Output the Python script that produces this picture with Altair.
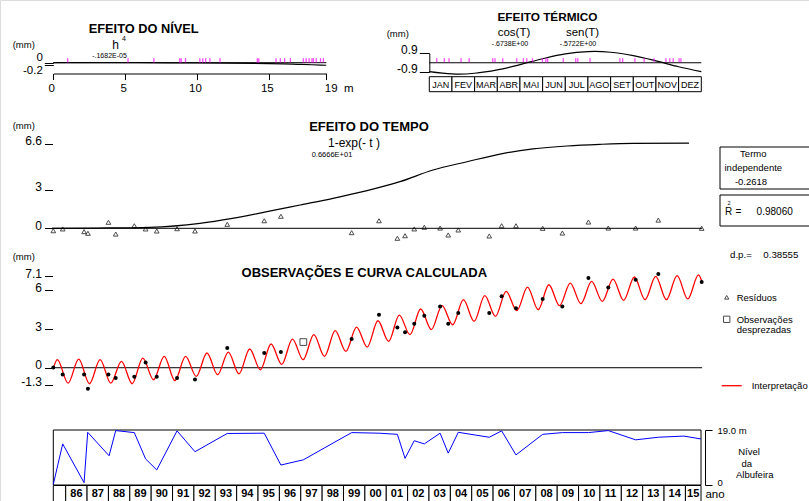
import altair as alt
import pandas as pd

FONT = "Liberation Sans"

# ---------------- data ----------------
# Efeito do nível (h in m -> effect in mm)
nivel_h = [0, 4, 8, 10, 12, 14, 16, 17, 18, 19]
nivel_ef = [0.0, 0.0, -0.007, -0.017, -0.035, -0.065, -0.11, -0.14, -0.177, -0.22]
nivel_obs_h = [1.0, 5.2, 7.0, 8.8, 8.9, 9.2, 10.2, 10.4, 10.6, 10.9, 11.6, 14.2, 14.3,
               15.5, 15.8, 16.1, 16.5, 17.4, 17.6, 17.8, 18.0, 18.1, 18.3, 18.6, 18.8]

# Efeito térmico (position in months 0-12 -> effect in mm)
term_m = [0, 1, 1.3, 2, 3, 4, 5, 6, 7, 7.3, 8, 9, 10, 11, 12]
term_ef = [-0.84, -1.06, -1.08, -1.0, -0.68, -0.18, 0.38, 0.84, 1.06, 1.08, 1.0, 0.68, 0.18, -0.38, -0.84]
term_obs_m = [0.33, 0.66, 0.87, 1.40, 1.76, 2.80, 2.90, 3.24, 3.86, 4.15, 4.30, 4.55, 4.99, 5.14,
              5.22, 5.91, 6.46, 6.55, 7.09, 8.41, 8.53, 9.07, 9.48, 9.92, 10.44, 10.61, 10.76,
              11.02, 11.10]
months = ["JAN", "FEV", "MAR", "ABR", "MAI", "JUN", "JUL", "AGO", "SET", "OUT", "NOV", "DEZ"]

# Efeito do tempo
tempo_t = [1985.36, 1987.5, 1989.94, 1992.28, 1993.8, 1995.42, 1996.97, 1998.51, 2000.1,
           2001.64, 2003.19, 2004.78, 2006.32, 2007.87, 2009.46, 2011.0, 2012.55, 2015.17]
tempo_ef = [0.0, 0.02, 0.08, 0.39, 0.78, 1.3, 1.82, 2.34, 2.94, 3.64, 4.55, 5.2, 5.8, 6.2,
            6.43, 6.56, 6.64, 6.66]

# Observations, residuals
obs_t = [1985.42, 1985.86, 1986.86, 1987.04, 1988.00, 1988.34, 1989.21, 1989.74, 1990.26,
         1991.21, 1992.05, 1993.56, 1995.29, 1996.07, 1999.38, 2000.66, 2001.52, 2001.88,
         2002.31, 2002.78, 2003.52, 2003.90, 2004.37, 2005.82, 2006.40, 2007.07, 2008.32,
         2009.24, 2010.46, 2011.39, 2012.67, 2013.73, 2015.76]
obs_v = [0.02, -0.52, -0.52, -1.63, -0.52, -0.80, -0.70, 0.41, -0.70, -0.80, -0.91, 1.53,
         1.14, 1.22, 2.22, 4.11, 3.12, 2.74, 3.41, 4.03, 4.75, 3.41, 4.24, 4.24, 5.53, 4.60,
         5.33, 4.75, 6.95, 6.22, 6.82, 7.26, 6.64]
res_v = [-0.19, -0.05, -0.26, -0.39, 0.47, -0.45, 0.20, -0.05, -0.21, -0.03, -0.21, 0.31,
         0.59, 0.94, -0.34, 0.59, -0.78, -0.58, -0.05, 0.08, 0.02, -0.52, -0.13, -0.60, 0.20,
         0.20, 0.00, -0.37, 0.49, 0.02, 0.02, 0.64, 0.00]
despr_t = [1997.12]
despr_v = [1.99]

# Interpretation curve (read at its peaks and troughs)
curve_start = (1985.42, -0.05)
curve_end = (2015.77, 6.69)
peak_years = list(range(1985, 2016))
peak_vals = [0.62, 0.67, 0.62, 0.49, 0.75, 0.88, 0.88, 1.14, 1.21, 1.45, 1.84, 2.22, 2.56,
             2.87, 3.15, 3.64, 4.08, 4.55, 4.81, 5.27, 5.58, 5.91, 6.25, 6.43, 6.56, 6.69,
             6.87, 7.03, 7.08, 7.13, 7.19]
trough_years = list(range(1986, 2016))
trough_vals = [-1.19, -1.24, -1.19, -1.24, -0.93, -1.0, -0.67, -0.54, -0.47, -0.16, 0.26,
               0.62, 0.88, 1.26, 1.6, 2.04, 2.56, 2.95, 3.33, 3.59, 3.98, 4.42, 4.5, 4.81,
               4.96, 5.14, 5.22, 5.27, 5.27, 5.33]
peak_phase = 0.61
trough_phase = 0.11

# Reservoir level
level_t = [1985.42, 1985.86, 1986.86, 1987.03, 1988.03, 1988.34, 1989.21, 1989.74, 1990.26,
           1991.21, 1992.05, 1993.56, 1995.29, 1996.07, 1997.12, 1999.38, 2000.66, 2001.52,
           2001.88, 2002.31, 2002.78, 2003.52, 2003.90, 2004.37, 2005.82, 2006.40, 2007.07,
           2008.32, 2009.24, 2010.46, 2011.39, 2012.67, 2013.73, 2014.93, 2015.73]
level_h = [0.24, 14.2, 0.8, 18.2, 10.1, 18.8, 18.1, 9.0, 5.2, 18.7, 11.5, 17.8, 17.9, 6.9,
           8.7, 18.1, 17.9, 17.5, 9.2, 15.3, 14.2, 17.9, 11.0, 18.2, 16.5, 18.7, 10.4, 17.5,
           18.1, 18.1, 18.8, 15.6, 16.5, 16.9, 15.9]
years = list(range(1985, 2016))
t_first, t_last = 1985.42, 2015.73

# ---------------- tables ----------------
ONE = pd.DataFrame({"k": [0]})
df_niv = pd.DataFrame({"h": nivel_h, "ef": nivel_ef})
df_niv_obs = pd.DataFrame({"h": nivel_obs_h})
df_term = pd.DataFrame({"m": term_m, "ef": term_ef})
df_term_obs = pd.DataFrame({"m": term_obs_m})
df_months = pd.DataFrame({"i": list(range(12)), "i1": [i + 1 for i in range(12)],
                          "c": [i + 0.5 for i in range(12)], "name": months})
df_tempo = pd.DataFrame({"t": tempo_t, "ef": tempo_ef})
df_obs = pd.DataFrame({"t": obs_t, "v": obs_v, "r": res_v})
df_despr = pd.DataFrame({"t": despr_t, "v": despr_v})
rows = [curve_start, curve_end]
rows += [(y + peak_phase, v) for y, v in zip(peak_years, peak_vals)]
rows += [(y + trough_phase, v) for y, v in zip(trough_years, trough_vals)]
df_curve = pd.DataFrame(sorted(rows), columns=["t", "v"])
df_level = pd.DataFrame({"t": level_t, "h": level_h})
df_years = pd.DataFrame({
    "s": [max(y, t_first) for y in years],
    "e": [min(y + 1, t_last) for y in years],
    "lab": ["" if y == 1985 else f"{y % 100:02d}" for y in years],
})
df_years["c"] = (df_years["s"] + df_years["e"]) / 2
df_frame = pd.DataFrame({"s": [t_first], "e": [t_last], "lo": [0], "hi": [19]})

# ---------------- scales / axes ----------------
def S(dom, rng):
    return alt.Scale(domain=dom, range=rng, nice=False, zero=False)

AXC = dict(grid=False, labelFont=FONT, labelColor="black", tickColor="black",
           domainColor="black", title="", labelFlush=False, labelOverlap=False,
           tickWidth=1, domainWidth=1)
NUM = "replace(format(datum.value, '.3~g'), '\u2212', '-')"

X_NIV = S([0, 19], [53.3, 326.3])
Y_NIV = S([-0.2, 0], [65.0, 62.7])
AX_NIV_X = alt.Axis(orient="bottom", offset=-427.5, values=[0, 5, 10, 15, 19], tickSize=6,
                    labelFontSize=11.5, labelPadding=3, labelOffset=-2,
                    labelExpr="datum.value == 19 ? '19\u00a0\u00a0m' : " + NUM,
                    labelAlign={"condition": {"test": "datum.value == 19", "value": "left"},
                                "value": "center"}, **AXC)
AX_NIV_Y = alt.Axis(orient="left", offset=-53.3, values=[0, -0.2], tickSize=9, domain=False,
                    labelFontSize=11.5, labelPadding=2, labelExpr=NUM,
                    labelOffset={"condition": {"test": "datum.value == 0", "value": -5.5},
                                 "value": 5.5}, **AXC)

X_TER = S([0, 12], [429.3, 701.3])
Y_TER = S([-0.9, 0.9], [72.2, 53.3])
AX_TER_Y = alt.Axis(orient="left", offset=-429.3, values=[-0.9, 0.9], tickSize=10,
                    labelFontSize=12, labelPadding=2, labelOffset=-4, labelExpr=NUM, **AXC)

X_T = S([1985, 2016], [44.33, 706.8])
Y_TEMPO = S([0, 6.6], [228.3, 143.8])
AX_TEMPO_Y = alt.Axis(orient="left", offset=-52.5, values=[0, 3, 6.6], tickSize=8,
                      domain=False, labelFontSize=12, labelPadding=3, labelOffset=-3,
                      labelExpr=NUM, **AXC)
Y_OBS = S([-1.3, 7.1], [384.5, 276.1])
AX_OBS_Y = alt.Axis(orient="left", offset=-52.5, values=[-1.3, 0, 3, 6, 7.1], tickSize=8,
                    domain=False, labelFontSize=12, labelPadding=3, labelOffset=-3,
                    labelExpr=NUM, **AXC)
Y_LEV = S([0, 19], [485, 430])
AX_LEV_Y = alt.Axis(orient="right", offset=-104, values=[0, 19], tickSize=7,
                    labelFontSize=9.5, labelPadding=5,
                    labelExpr="datum.value == 19 ? '19.0 m' : '0'",
                    labelOffset={"condition": {"test": "datum.value == 0", "value": -3},
                                 "value": 0}, **AXC)

# ---------------- panels ----------------
# Nível
niv = alt.layer(
    alt.Chart(ONE).mark_rule(color="black", strokeWidth=1).encode(
        x=alt.XDatum(0, scale=X_NIV, axis=AX_NIV_X), x2=alt.X2Datum(19),
        y=alt.YDatum(0, scale=Y_NIV, axis=AX_NIV_Y)),
    alt.Chart(df_niv).mark_line(color="black", strokeWidth=1.2, interpolate="monotone").encode(
        x=alt.X("h:Q", scale=X_NIV, axis=AX_NIV_X), y=alt.Y("ef:Q", scale=Y_NIV, axis=AX_NIV_Y)),
    alt.Chart(df_niv_obs).mark_tick(orient="vertical", color="#ff00ff", size=4.5, thickness=1.3,
                                   yOffset=-2.3).encode(
        x=alt.X("h:Q", scale=X_NIV, axis=AX_NIV_X), y=alt.YDatum(0, scale=Y_NIV, axis=AX_NIV_Y)),
)

# Térmico
ter = alt.layer(
    alt.Chart(ONE).mark_rule(color="black", strokeWidth=1).encode(
        x=alt.XDatum(0, scale=X_TER, axis=None), x2=alt.X2Datum(12),
        y=alt.YDatum(0, scale=Y_TER, axis=AX_TER_Y)),
    alt.Chart(df_term).mark_line(color="black", strokeWidth=1.2, interpolate="monotone").encode(
        x=alt.X("m:Q", scale=X_TER, axis=None), y=alt.Y("ef:Q", scale=Y_TER, axis=AX_TER_Y)),
    alt.Chart(df_term_obs).mark_tick(orient="vertical", color="#ff00ff", size=4, thickness=1.3,
                                    yOffset=-2.5).encode(
        x=alt.X("m:Q", scale=X_TER, axis=None), y=alt.YDatum(0, scale=Y_TER, axis=AX_TER_Y)),
    alt.Chart(df_months).mark_rect(fill="white", stroke="black", strokeWidth=1).encode(
        x=alt.X("i:Q", scale=X_TER, axis=None), x2="i1:Q",
        y=alt.value(76.7), y2=alt.value(91.7)),
    alt.Chart(df_months).mark_text(font=FONT, fontSize=9, color="black").encode(
        x=alt.X("c:Q", scale=X_TER, axis=None), y=alt.value(84.5), text="name:N"),
)

# Tempo
tem = alt.layer(
    alt.Chart(ONE).mark_rule(color="black", strokeWidth=1).encode(
        x=alt.XDatum(1985.36, scale=X_T, axis=None), x2=alt.X2Datum(2015.78),
        y=alt.YDatum(0, scale=Y_TEMPO, axis=AX_TEMPO_Y)),
    alt.Chart(df_tempo).mark_line(color="black", strokeWidth=1.2, interpolate="monotone").encode(
        x=alt.X("t:Q", scale=X_T, axis=None), y=alt.Y("ef:Q", scale=Y_TEMPO, axis=AX_TEMPO_Y)),
    alt.Chart(df_obs).mark_point(shape="triangle-up", filled=False, color="black", size=22,
                                 strokeWidth=1).encode(
        x=alt.X("t:Q", scale=X_T, axis=None), y=alt.Y("r:Q", scale=Y_TEMPO, axis=AX_TEMPO_Y)),
)

# Observações e curva calculada
obs = alt.layer(
    alt.Chart(ONE).mark_rule(color="black", strokeWidth=1).encode(
        x=alt.XDatum(1985.36, scale=X_T, axis=None), x2=alt.X2Datum(2015.78),
        y=alt.YDatum(0, scale=Y_OBS, axis=AX_OBS_Y)),
    alt.Chart(df_curve).mark_line(color="#ff0000", strokeWidth=1.3, interpolate="monotone").encode(
        x=alt.X("t:Q", scale=X_T, axis=None), y=alt.Y("v:Q", scale=Y_OBS, axis=AX_OBS_Y)),
    alt.Chart(df_obs).mark_point(shape="circle", filled=True, color="black", size=16,
                                 opacity=1).encode(
        x=alt.X("t:Q", scale=X_T, axis=None), y=alt.Y("v:Q", scale=Y_OBS, axis=AX_OBS_Y)),
    alt.Chart(df_despr).mark_point(shape="square", filled=False, color="black", size=45,
                                   strokeWidth=1).encode(
        x=alt.X("t:Q", scale=X_T, axis=None), y=alt.Y("v:Q", scale=Y_OBS, axis=AX_OBS_Y)),
)

# Nível da albufeira
lev = alt.layer(
    alt.Chart(df_frame).mark_rect(fillOpacity=0, stroke="black", strokeWidth=1).encode(
        x=alt.X("s:Q", scale=X_T, axis=None), x2="e:Q",
        y=alt.Y("lo:Q", scale=Y_LEV, axis=AX_LEV_Y), y2="hi:Q"),
    alt.Chart(df_level).mark_line(color="#0000ff", strokeWidth=1).encode(
        x=alt.X("t:Q", scale=X_T, axis=None), y=alt.Y("h:Q", scale=Y_LEV, axis=AX_LEV_Y)),
    alt.Chart(df_years).mark_rect(fill="white", stroke="black", strokeWidth=1).encode(
        x=alt.X("s:Q", scale=X_T, axis=None), x2="e:Q",
        y=alt.value(485.5), y2=alt.value(502)),
    alt.Chart(df_years).mark_text(font=FONT, fontSize=11, fontWeight="bold", color="black").encode(
        x=alt.X("c:Q", scale=X_T, axis=None), y=alt.value(494), text="lab:N"),
)


# ---------------- annotations ----------------
def txt(s, x, y, size, bold=False, align="center", color="black"):
    return alt.Chart(ONE).mark_text(
        text=s, font=FONT, fontSize=size, fontWeight="bold" if bold else "normal",
        align=align, baseline="middle", color=color).encode(x=alt.value(x), y=alt.value(y))


def box(x0, x1, y0, y1):
    return alt.Chart(ONE).mark_rect(fillOpacity=0, stroke="black", strokeWidth=1).encode(
        x=alt.value(x0), x2=alt.value(x1), y=alt.value(y0), y2=alt.value(y1))


ann = [
    txt("EFEITO DO NÍVEL", 143.7, 28.5, 12.8, bold=True),
    txt("(mm)", 12.7, 45, 9.5, align="left"),
    txt("h", 115.5, 44.5, 12),
    txt("4", 124, 39, 7),
    txt("-.1682E-05", 109.5, 55.5, 7),
    txt("EFEITO TÉRMICO", 547.5, 16.5, 11.8, bold=True),
    txt("(mm)", 386.7, 34, 9.5, align="left"),
    txt("cos(T)", 514, 32.5, 11.5),
    txt("-.6738E+00", 510, 43.5, 7),
    txt("sen(T)", 582.5, 32.5, 11.5),
    txt("-.5722E+00", 578, 43.5, 7),
    txt("(mm)", 12.7, 125.5, 9.5, align="left"),
    txt("EFEITO DO TEMPO", 369, 127, 13, bold=True),
    txt("1-exp(- t )", 354, 143, 12),
    txt("0.6666E+01", 332, 155, 7.5),
    box(720, 812, 147, 189),
    txt("Termo", 753.3, 153.5, 9.5),
    txt("independente", 753.3, 167.5, 9.5),
    txt("-0.2618", 751, 181.7, 9.5),
    box(720, 812, 195, 226),
    txt("R", 728.5, 211.5, 10),
    txt("2", 729, 202.5, 5.5),
    txt("=", 738.5, 211.5, 10),
    txt("0.98060", 774.7, 211.7, 10),
    txt("d.p.=", 730, 255, 9.7, align="left"),
    txt("0.38555", 763.3, 255, 9.7, align="left"),
    txt("(mm)", 12.7, 257, 9.5, align="left"),
    txt("OBSERVAÇÕES E CURVA CALCULADA", 364.3, 273, 13, bold=True),
    alt.Chart(ONE).mark_point(shape="triangle-up", filled=False, color="black", size=18,
                              strokeWidth=1).encode(x=alt.value(726.7), y=alt.value(297.3)),
    txt("Resíduos", 736.7, 297.5, 9.5, align="left"),
    alt.Chart(ONE).mark_point(shape="square", filled=False, color="black", size=40,
                              strokeWidth=1).encode(x=alt.value(726.7), y=alt.value(319.3)),
    txt("Observações", 736.7, 319.5, 9.5, align="left"),
    txt("desprezadas", 736.7, 330, 9.5, align="left"),
    alt.Chart(ONE).mark_rule(color="#ff0000", strokeWidth=1.3).encode(
        x=alt.value(721.7), x2=alt.value(741.7), y=alt.value(385.7)),
    txt("Interpretação", 751.7, 385.5, 9.5, align="left"),
    txt("Nível", 749, 452.3, 9.5),
    txt("da", 746.7, 464, 9.5),
    txt("Albufeira", 754.7, 475, 9.5),
    txt("ano", 715, 494.5, 11.5),
]

chart = alt.layer(niv, ter, tem, obs, lev, *ann).resolve_scale(
    x="independent", y="independent"
).resolve_axis(
    x="independent", y="independent"
).properties(
    width=809, height=501, padding=0, background="white",
    autosize=alt.AutoSizeParams(type="none"),
).configure_view(strokeOpacity=0).configure(font=FONT)

chart.save("out.html", embed_options={"renderer": "svg", "actions": False})
